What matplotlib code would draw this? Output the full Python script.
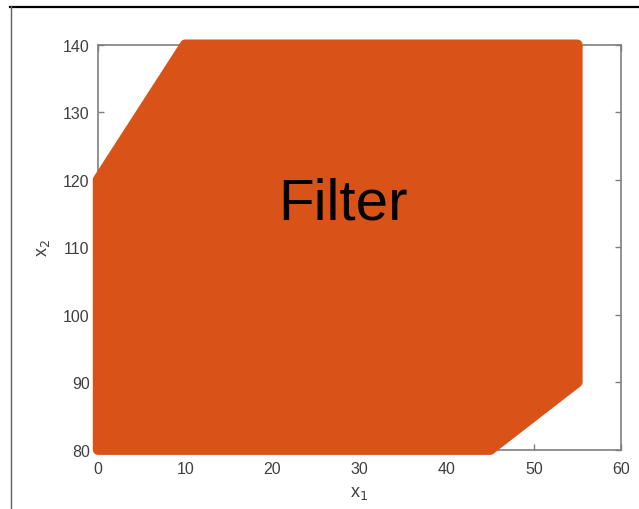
import matplotlib.pyplot as plt
from matplotlib.lines import Line2D

# sommets de la region "Filter"
x1_pts = [0, 45, 55, 55, 10, 0]
x2_pts = [80, 80, 90, 140, 140, 120]

xticks = [0, 10, 20, 30, 40, 50, 60]
yticks = [80, 90, 100, 110, 120, 130, 140]

orange = "#D95319"

plt.rcParams["font.family"] = ["Liberation Sans", "DejaVu Sans"]

fig = plt.figure(figsize=(6.39, 5.10), dpi=100)
W, H = 639, 510
ax = fig.add_axes([98 / W, 1 - 450.7 / H, (621 - 98) / W, (450.7 - 45.7) / H])

ax.fill(x1_pts, x2_pts, color=orange, edgecolor=orange, linewidth=7.5,
        joinstyle="round", clip_on=False, zorder=3)

ax.set_xlim(0, 60)
ax.set_ylim(80, 140)
ax.set_xticks(xticks)
ax.set_yticks(yticks)
ax.tick_params(direction="in", top=True, right=True, length=4, width=1,
               color="#7f7f7f", labelsize=11.5, labelcolor="#404040")
ax.tick_params(axis="x", pad=8)
ax.tick_params(axis="y", pad=6)
for s in ax.spines.values():
    s.set_color("#7f7f7f")
    s.set_linewidth(1.2)

ax.set_xlabel("x$_1$", fontsize=13, color="#404040", labelpad=6)
ax.set_ylabel("x$_2$", fontsize=13, color="#404040", labelpad=8)

ax.text(343 / W, 1 - 205 / H, "Filter", transform=fig.transFigure,
        fontsize=42, color="black", ha="center", va="center", zorder=5)

# cadre
fig.add_artist(Line2D([10 / W, 1], [1 - 8 / H, 1 - 8 / H], color="black", linewidth=1.6))
fig.add_artist(Line2D([10.5 / W, 10.5 / W], [0, 1 - 7 / H], color="#606060", linewidth=1))

fig.savefig("out.png", dpi=100)
